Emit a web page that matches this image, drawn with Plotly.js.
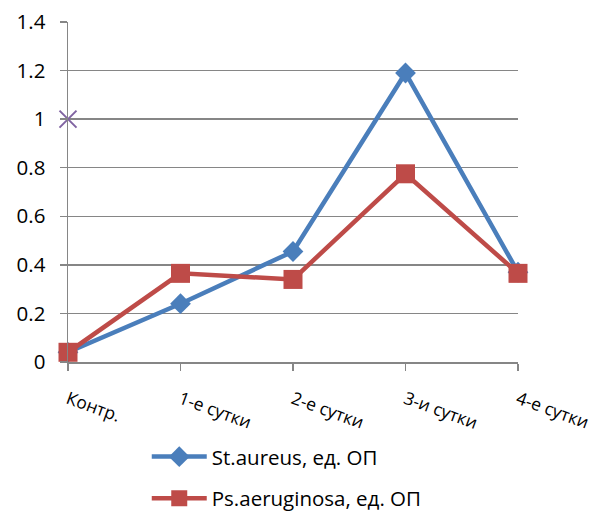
<!DOCTYPE html>
<html>
<head>
<meta charset="utf-8">
<script src="https://cdn.plot.ly/plotly-3.0.1.min.js"></script>
<style>
  html, body { margin: 0; padding: 0; background: #fff; }
  #chart { width: 598px; height: 513px; }
</style>
</head>
<body>
<div id="chart"></div>
<script>
// Categories on the x axis
const categories = ["Контр.", "1-е сутки", "2-е сутки", "3-и сутки", "4-е сутки"];

// Optical density per day for each culture
const staureus = [0.04, 0.24, 0.455, 1.19, 0.37];
const psaeruginosa = [0.04, 0.365, 0.34, 0.775, 0.365];

// Control reference point
const controlX = ["Контр."];
const controlY = [1.0];

const seriesNames = ["St.aureus, ед. ОП", "Ps.aeruginosa, ед. ОП"];

const FONT = "Open Sans, Noto Sans, sans-serif";
const GRID = "#868686";

const traces = [
  {
    x: categories, y: staureus, name: seriesNames[0], type: "scatter", mode: "lines+markers",
    line: { color: "#4A7EBB", width: 4.5 },
    marker: { symbol: "diamond", size: 16, color: "#4A7EBB" },
    cliponaxis: false,
    legendgroup: "a"
  },
  {
    x: categories, y: psaeruginosa, name: seriesNames[1], type: "scatter", mode: "lines+markers",
    line: { color: "#BE4B48", width: 4.5 },
    marker: { symbol: "square", size: 19, color: "#BE4B48" },
    cliponaxis: false,
    legendgroup: "b"
  },
  {
    x: controlX, y: controlY, name: "Контроль", type: "scatter", mode: "markers",
    marker: { symbol: "x-thin-open", size: 17, color: "#8064A2", line: { color: "#8064A2", width: 2 } },
    cliponaxis: false,
    showlegend: false
  }
];

const layout = {
  width: 598, height: 513,
  margin: { l: 68, r: 80, t: 21.5, b: 150.5, autoexpand: false },
  paper_bgcolor: "#fff", plot_bgcolor: "#fff",
  font: { family: FONT, size: 20, color: "#000" },
  showlegend: true,
  xaxis: {
    type: "category", categoryorder: "array", categoryarray: categories,
    range: [0, 4],
    showgrid: false, zeroline: false,
    showline: true, linecolor: GRID, linewidth: 1.5,
    ticks: "outside", ticklen: 7, tickcolor: GRID, tickwidth: 1.5,
    tickangle: 20,
    tickfont: { family: FONT, size: 17.5, color: "#000" },
    ticklabelstandoff: 12,
    automargin: false
  },
  yaxis: {
    range: [0, 1.4], dtick: 0.2,
    showgrid: true, gridcolor: GRID, gridwidth: 1.5,
    zeroline: false,
    showline: true, linecolor: GRID, linewidth: 1.5,
    ticks: "outside", ticklen: 7, tickcolor: GRID, tickwidth: 1.5,
    tickfont: { family: FONT, size: 20.5, color: "#000" },
    ticklabelstandoff: 10,
    automargin: false
  },
  legend: {
    orientation: "v",
    x: 0.175, xanchor: "left",
    y: -0.22, yanchor: "top",
    itemwidth: 55,
    font: { family: FONT, size: 20.5, color: "#000" },
    tracegroupgap: 12,
    bgcolor: "rgba(0,0,0,0)"
  }
};

Plotly.newPlot("chart", traces, layout, { staticPlot: true, displayModeBar: false });
</script>
</body>
</html>
